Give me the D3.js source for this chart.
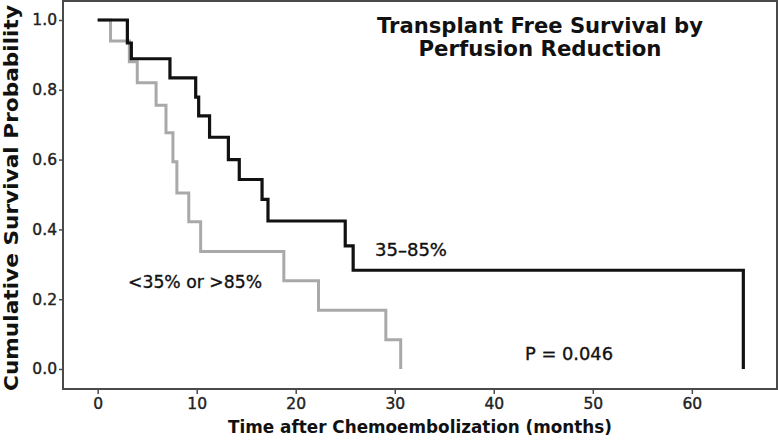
<!DOCTYPE html>
<html><head><meta charset="utf-8">
<script src="https://cdn.jsdelivr.net/npm/d3@7/dist/d3.min.js"></script>
<style>body{margin:0;background:#fff}svg{display:block}</style>
</head><body>
<svg id="c" width="778" height="440"></svg>
<script>
// Kaplan-Meier step data (time in months, survival probability)
const midTimes = [0, 3.0, 3.4, 7.3, 9.9, 10.2, 11.3, 13.2, 14.3, 16.6, 17.2, 25.0, 25.8, 65.2];
const midSurv  = [1, 0.934, 0.889, 0.834, 0.779, 0.725, 0.664, 0.600, 0.543, 0.486, 0.424, 0.353, 0.283, 0];
const extTimes = [0, 1.3, 3.2, 4.0, 5.9, 6.9, 7.6, 8.0, 9.2, 10.4, 18.8, 22.3, 29.1, 30.6];
const extSurv  = [1, 0.94, 0.88, 0.82, 0.756, 0.677, 0.594, 0.504, 0.422, 0.337, 0.253, 0.168, 0.084, 0];
const xTicks = [0, 10, 20, 30, 40, 50, 60];
const yTicks = [0, 0.2, 0.4, 0.6, 0.8, 1.0];
const seriesLabels = ["35–85%", "<35% or >85%"];
const titleLines = ["Transplant Free Survival by", "Perfusion Reduction"];
const pText = "P = 0.046";

const svg = d3.select("#c");
const L = 63, R = 777, T = 1, B = 389;
const x = d3.scaleLinear().domain([-3.5, 68.6]).range([L, R]);
const y = d3.scaleLinear().domain([-0.0573, 1.0544]).range([B, T]);

// frame
svg.append("rect").attr("x", L).attr("y", T).attr("width", R - L).attr("height", B - T)
  .attr("fill", "none").attr("stroke", "#4a4a4a").attr("stroke-width", 2);

const font = "DejaVu Sans, sans-serif";
function thicken(sel, c, w) { sel.attr("stroke", c).attr("stroke-width", w).attr("paint-order", "stroke"); }
// x axis
const xa = svg.append("g").attr("transform", `translate(0,${B})`)
  .call(d3.axisBottom(x).tickValues(xTicks).tickSize(5).tickPadding(4).tickFormat(d3.format("d")));
xa.select(".domain").remove();
xa.selectAll("line").attr("stroke", "#4a4a4a").attr("stroke-width", 1.5);
xa.selectAll("text").attr("font-family", font).attr("font-size", 15.5).attr("fill", "#222").call(thicken, "#222", 0.4);

const ya = svg.append("g").attr("transform", `translate(${L},0)`)
  .call(d3.axisLeft(y).tickValues(yTicks).tickSize(4).tickPadding(2).tickFormat(d3.format(".1f")));
ya.select(".domain").remove();
ya.selectAll("line").attr("stroke", "#4a4a4a").attr("stroke-width", 1.5);
ya.selectAll("text").attr("font-family", font).attr("font-size", 15.5).attr("fill", "#222").call(thicken, "#222", 0.4);

// axis titles
svg.append("text").attr("x", 420).attr("y", 433).attr("text-anchor", "middle")
  .attr("font-family", font).attr("font-weight", "bold").attr("font-size", 17).attr("fill", "#111")
  .attr("textLength", 384).attr("lengthAdjust", "spacingAndGlyphs")
  .text("Time after Chemoembolization (months)");
svg.append("text").attr("transform", "translate(18,198) rotate(-90)").attr("text-anchor", "middle")
  .attr("font-family", font).attr("font-weight", "bold").attr("font-size", 20).attr("fill", "#111")
  .attr("textLength", 386).attr("lengthAdjust", "spacingAndGlyphs")
  .text("Cumulative Survival Probability");

// curves
const line = d3.line().curve(d3.curveStepAfter).x(d => x(d[0])).y(d => y(d[1]));
const pts = (ts, ss) => ts.map((t, i) => [t, ss[i]]);
svg.append("path").datum(pts(extTimes, extSurv)).attr("d", line)
  .attr("fill", "none").attr("stroke", "#a9a9a9").attr("stroke-width", 3);
svg.append("path").datum(pts(midTimes, midSurv)).attr("d", line)
  .attr("fill", "none").attr("stroke", "#111").attr("stroke-width", 3.2);

// annotations
const ann = svg.append("g").attr("font-family", font).attr("fill", "#111").attr("font-size", 17)
  .call(thicken, "#111", 0.35);
ann.append("text").attr("x", 375).attr("y", 256).attr("textLength", 72).attr("lengthAdjust", "spacingAndGlyphs").text(seriesLabels[0]);
ann.append("text").attr("x", 128).attr("y", 288).attr("textLength", 134).attr("lengthAdjust", "spacingAndGlyphs").text(seriesLabels[1]);
ann.append("text").attr("x", 525).attr("y", 360).attr("textLength", 88).attr("lengthAdjust", "spacingAndGlyphs").text(pText);

const tt = svg.append("g").attr("font-family", font).attr("font-weight", "bold").attr("fill", "#111")
  .attr("text-anchor", "middle").attr("font-size", 21);
tt.append("text").attr("x", 540).attr("y", 33).attr("textLength", 326).attr("lengthAdjust", "spacingAndGlyphs").text(titleLines[0]);
tt.append("text").attr("x", 540).attr("y", 56).attr("textLength", 243).attr("lengthAdjust", "spacingAndGlyphs").text(titleLines[1]);
</script>
</body></html>
